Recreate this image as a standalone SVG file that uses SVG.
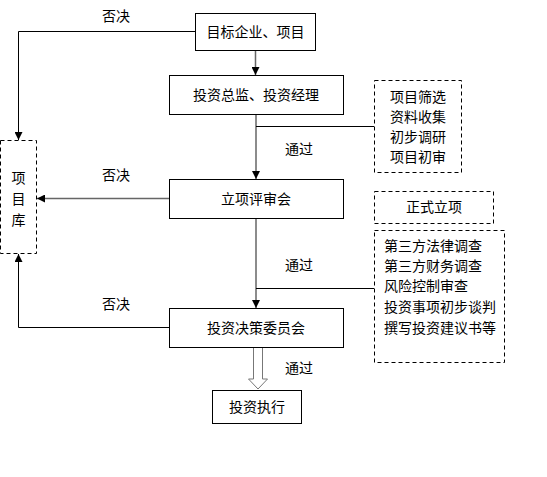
<svg xmlns="http://www.w3.org/2000/svg" width="547" height="477" viewBox="0 0 547 477">
<style>
  .box{fill:#fff;stroke:#000;stroke-width:1}
  .dash{fill:#fff;stroke:#000;stroke-width:1;stroke-dasharray:4,3}
  .t{font-family:"Noto Sans CJK SC","Liberation Sans",sans-serif;font-size:14px;fill:#000}
  .c{text-anchor:middle}
  .ln{fill:none;stroke:#000;stroke-width:1}
  .v{fill:none;stroke:#666;stroke-width:1.5}
</style>
<defs>
  <marker id="ah" viewBox="0 0 10 10" refX="10" refY="5" markerWidth="8" markerHeight="8" markerUnits="userSpaceOnUse" orient="auto">
    <path d="M0,0 L10,5 L0,10 Z" fill="#000"/>
  </marker>
</defs>
<rect width="547" height="477" fill="#fff"/>
<g id="connectors">
  <line class="v" x1="255.5" y1="50" x2="255.5" y2="75" marker-end="url(#ah)"/>
  <polyline class="ln" points="195,31.5 18.5,31.5 18.5,140" marker-end="url(#ah)"/>
  <line class="v" x1="256" y1="114" x2="256" y2="179" marker-end="url(#ah)"/>
  <line class="ln" x1="256" y1="126.5" x2="374" y2="126.5"/>
  <line class="v" x1="169" y1="198.5" x2="37" y2="198.5" marker-end="url(#ah)"/>
  <line class="v" x1="256" y1="218" x2="256" y2="308" marker-end="url(#ah)"/>
  <line class="ln" x1="256" y1="288.5" x2="374" y2="288.5"/>
  <polyline class="ln" points="169,327.5 18.5,327.5 18.5,254" marker-end="url(#ah)"/>
  <path d="M253.5,347 L253.5,379 L248.5,379 L258,389 L267.5,379 L262.5,379 L262.5,347 Z" fill="#fff" stroke="#777" stroke-width="1"/>
  <text class="t c" x="116" y="21">否决</text>
  <text class="t c" x="116" y="180">否决</text>
  <text class="t c" x="116" y="309">否决</text>
  <text class="t c" x="299" y="154">通过</text>
  <text class="t c" x="299" y="270">通过</text>
  <text class="t c" x="299" y="373">通过</text>
</g>
<g id="n1">
  <rect class="box" x="195.5" y="13.5" width="120" height="37"/>
  <text class="t c" x="255.5" y="37">目标企业、项目</text>
</g>
<g id="n2">
  <rect class="box" x="169.5" y="75.5" width="174" height="39"/>
  <text class="t c" x="256" y="100">投资总监、投资经理</text>
</g>
<g id="n3">
  <rect class="box" x="169.5" y="179.5" width="174" height="39"/>
  <text class="t c" x="256" y="204">立项评审会</text>
</g>
<g id="n4">
  <rect class="box" x="169.5" y="308.5" width="174" height="39"/>
  <text class="t c" x="256" y="333">投资决策委员会</text>
</g>
<g id="n5">
  <rect class="box" x="212.5" y="390.5" width="89" height="33"/>
  <text class="t c" x="257" y="412">投资执行</text>
</g>
<g id="pool">
  <rect class="dash" x="0.5" y="140.5" width="36" height="113"/>
  <text class="t c" x="18.5" y="183">项</text>
  <text class="t c" x="18.5" y="204">目</text>
  <text class="t c" x="18.5" y="225">库</text>
</g>
<g id="note1">
  <rect class="dash" x="374.5" y="80.5" width="87" height="92"/>
  <text class="t" x="390" y="102">项目筛选</text>
  <text class="t" x="390" y="122">资料收集</text>
  <text class="t" x="390" y="142">初步调研</text>
  <text class="t" x="390" y="162">项目初审</text>
</g>
<g id="note2">
  <rect class="dash" x="374.5" y="191.5" width="119" height="32"/>
  <text class="t c" x="434" y="212">正式立项</text>
</g>
<g id="note3">
  <rect class="dash" x="374.5" y="230.5" width="130" height="132"/>
  <text class="t" x="384" y="251">第三方法律调查</text>
  <text class="t" x="384" y="271">第三方财务调查</text>
  <text class="t" x="384" y="291">风险控制审查</text>
  <text class="t" x="384" y="312">投资事项初步谈判</text>
  <text class="t" x="384" y="333">撰写投资建议书等</text>
</g>
</svg>
